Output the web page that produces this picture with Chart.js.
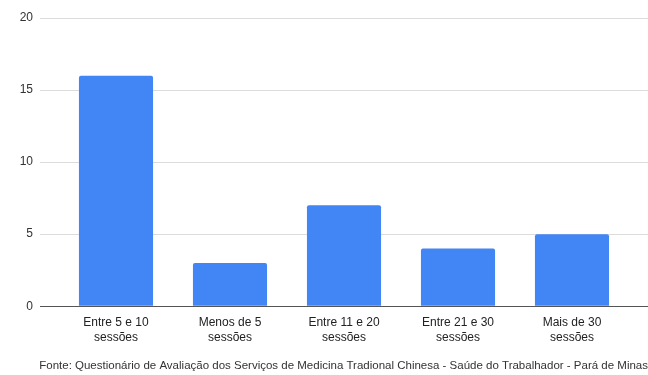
<!DOCTYPE html>
<html>
<head>
<meta charset="utf-8">
<script src="https://cdn.jsdelivr.net/npm/chart.js@4/dist/chart.umd.min.js"></script>
<style>
  html, body { margin: 0; padding: 0; background: #fff; }
  #wrap { width: 648px; height: 375px; }
</style>
</head>
<body>
<div id="wrap"><canvas id="chart-1"></canvas></div>
<script>
// dados do gráfico
const categorias = [
  ['Entre 5 e 10', 'sessões'],
  ['Menos de 5', 'sessões'],
  ['Entre 11 e 20', 'sessões'],
  ['Entre 21 e 30', 'sessões'],
  ['Mais de 30', 'sessões']
];
const valores = [16, 3, 7, 4, 5];
const yMax = 20;
const yPasso = 5;
const fonte = 'Fonte: Questionário de Avaliação dos Serviços de Medicina Tradional Chinesa - Saúde do Trabalhador - Pará de Minas';

// linha do zero mais escura
const corGrade = (ctx) => (ctx.tick && ctx.tick.value === 0 ? '#555' : '#dcdcdc');

new Chart(document.getElementById('chart-1'), {
  type: 'bar',
  data: {
    labels: categorias,
    datasets: [{
      data: valores,
      backgroundColor: '#4285F4',
      borderRadius: 2,
      borderSkipped: 'bottom',
      categoryPercentage: 1,
      barPercentage: 0.65
    }]
  },
  options: {
    responsive: true,
    maintainAspectRatio: false,
    animation: false,
    layout: { padding: { top: 18, left: 0, right: 0, bottom: 2 } },
    plugins: {
      legend: { display: false },
      tooltip: { enabled: false },
      title: {
        display: true,
        position: 'bottom',
        align: 'end',
        text: fonte,
        color: '#333',
        font: { family: 'Arial, "Liberation Sans", sans-serif', size: 11.5, weight: 'normal' },
        padding: { top: 5, bottom: 0 }
      }
    },
    scales: {
      x: {
        grid: { display: false, drawTicks: false },
        border: { display: false },
        ticks: {
          color: '#222',
          padding: 9,
          font: { family: 'Arial, "Liberation Sans", sans-serif', size: 12, lineHeight: 1.25 },
          maxRotation: 0
        }
      },
      y: {
        min: 0,
        max: yMax,
        afterFit: (s) => { s.width = 59; },
        border: { display: false },
        grid: { color: corGrade, tickColor: corGrade, tickLength: 19, lineWidth: 1 },
        ticks: {
          stepSize: yPasso,
          color: '#333',
          padding: 7,
          font: { family: 'Arial, "Liberation Sans", sans-serif', size: 12 }
        }
      },
      y2: {
        position: 'right',
        min: 0,
        max: yMax,
        afterFit: (s) => { s.width = 19; },
        border: { display: false },
        grid: { drawOnChartArea: false, tickColor: corGrade, tickLength: 19 },
        ticks: { stepSize: yPasso, display: false }
      }
    }
  }
});
</script>
</body>
</html>
